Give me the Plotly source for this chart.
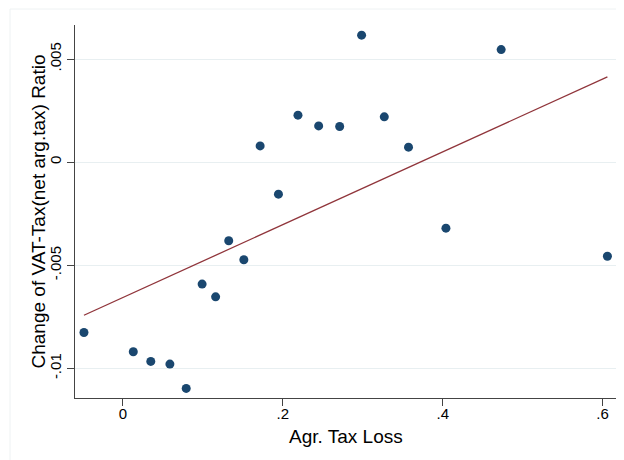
import plotly.graph_objects as go

# Data
agr_tax_loss = [-0.0488, 0.0129, 0.0348, 0.0587, 0.0791, 0.0990, 0.1159, 0.1323, 0.1512,
                0.1716, 0.1945, 0.2189, 0.2448, 0.2711, 0.2985, 0.3269, 0.3572, 0.4040,
                0.4731, 0.6060]
vat_change = [-0.00826, -0.00919, -0.00966, -0.00979, -0.01097, -0.00591, -0.00653, -0.00381,
              -0.00473, 0.00079, -0.00155, 0.00228, 0.00176, 0.00173, 0.00616, 0.00220,
              0.00073, -0.00320, 0.00546, -0.00456]

# Fitted line as drawn in the reference (intercept, slope)
fit_intercept = -0.00656
fit_slope = 0.01765

x_ticks = [0, 0.2, 0.4, 0.6]
x_tick_labels = ["0", ".2", ".4", ".6"]
y_ticks = [-0.01, -0.005, 0, 0.005]
y_tick_labels = ["-.01", "-.005", "0", ".005"]

fit_x = [min(agr_tax_loss), max(agr_tax_loss)]
fit_y = [fit_intercept + fit_slope * v for v in fit_x]

fig = go.Figure()
fig.add_trace(go.Scatter(x=fit_x, y=fit_y, mode="lines",
                         line=dict(color="#90353b", width=1.3), showlegend=False))
fig.add_trace(go.Scatter(x=agr_tax_loss, y=vat_change, mode="markers",
                         marker=dict(color="#1a476f", size=9), showlegend=False))

font_family = "Liberation Sans, Arial, sans-serif"
OFF = 8  # page body margin
W, H = 624, 460
L, T = 75 - OFF, 25 - OFF
R = W - (617 - OFF)
B = H - (398 - OFF)
pw, ph = W - L - R, H - T - B


def px(xp):  # page x -> paper
    return (xp - OFF - L) / pw


def py(yp):  # page y -> paper
    return 1 - (yp - OFF - T) / ph


fig.update_layout(
    width=W, height=H,
    margin=dict(l=L, r=R, t=T, b=B),
    paper_bgcolor="white", plot_bgcolor="white",
    font=dict(family=font_family, color="#000000"),
    shapes=[dict(type="rect", xref="paper", yref="paper", layer="below",
                 x0=px(10), x1=1.2, y0=-0.5, y1=py(9),
                 line=dict(color="#eef2f3", width=1), fillcolor="rgba(0,0,0,0)")],
    annotations=[
        dict(text="Agr. Tax Loss", xref="paper", yref="paper",
             x=px(346), y=py(436), showarrow=False,
             xanchor="center", yanchor="middle", font=dict(size=19)),
        dict(text="Change of VAT-Tax(net arg.tax) Ratio", xref="paper", yref="paper",
             x=px(38), y=py(211.5), showarrow=False, textangle=-90,
             xanchor="center", yanchor="middle", font=dict(size=19)),
    ],
)
fig.update_xaxes(
    range=[-0.06, 0.618], tickvals=x_ticks, ticktext=x_tick_labels, automargin=False,
    showgrid=False, zeroline=False, showline=True, linecolor="#444444", linewidth=1.3,
    ticks="outside", ticklen=7, tickcolor="#444444", tickwidth=1.3,
    tickfont=dict(size=15), ticklabelstandoff=-5,
)
fig.update_yaxes(
    range=[-0.011434, 0.006652], tickvals=y_ticks, ticktext=y_tick_labels, tickangle=-90,
    automargin=False,
    showgrid=True, gridcolor="#e8eff1", gridwidth=1.3, zeroline=False,
    showline=True, linecolor="#444444", linewidth=1.3,
    ticks="outside", ticklen=7, tickcolor="#444444", tickwidth=1.3,
    tickfont=dict(size=15),
)
fig.write_html("out.html")
